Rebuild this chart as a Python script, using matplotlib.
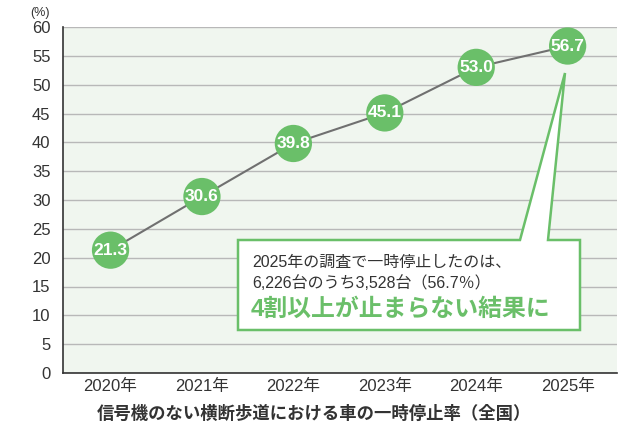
import matplotlib
matplotlib.use("Agg")
import matplotlib.pyplot as plt
from matplotlib.patches import Polygon

plt.rcParams['font.family'] = ['Liberation Sans', 'Noto Sans CJK JP']

years = ['2020年', '2021年', '2022年', '2023年', '2024年', '2025年']
rates = [21.3, 30.6, 39.8, 45.1, 53.0, 56.7]
yticks = [0, 5, 10, 15, 20, 25, 30, 35, 40, 45, 50, 55, 60]
title = '信号機のない横断歩道における車の一時停止率（全国）'
note1 = '2025年の調査で一時停止したのは、'
note2 = '6,226台のうち3,528台（56.7％）'
note3 = '4割以上が止まらない結果に'

green = '#6abf69'
dark = '#333333'

fig = plt.figure(figsize=(6.3, 4.3), dpi=100)
ax = fig.add_axes([63/630, 1 - 373/430, 554/630, 346/430])
ax.set_facecolor('#f0f6ef')
ax.set_xlim(-0.52, 5.54)
ax.set_ylim(0, 60)
ax.set_yticks(yticks)
ax.set_xticks(range(len(years)))
ax.set_xticklabels(years, fontsize=12, color=dark)
ax.tick_params(axis='y', labelsize=12, colors=dark, length=0, pad=9)
ax.tick_params(axis='x', length=0, pad=4)
ax.grid(axis='y', color='#b8b8b8', linewidth=1)
ax.set_axisbelow(True)
for s in ['top', 'right']:
    ax.spines[s].set_visible(False)
for s in ['left', 'bottom']:
    ax.spines[s].set_color(dark)
    ax.spines[s].set_linewidth(1.2)

x = list(range(len(rates)))
ax.plot(x, rates, color='#707070', linewidth=1.5, zorder=3)
ax.scatter(x, rates, s=720, color=green, zorder=4, edgecolors='none')
for xi, v in zip(x, rates):
    ax.text(xi, v, f'{v:.1f}', ha='center', va='center', color='white',
            fontsize=12.5, fontweight='semibold', zorder=5)

# callout box with tail pointing at the 2025 marker
box = [(238, 240), (520, 240), (565, 73), (548, 240), (580, 240),
       (580, 330), (238, 330)]
poly = Polygon([(a / 630, 1 - b / 430) for a, b in box], closed=True,
               transform=fig.transFigure, facecolor='white', edgecolor=green,
               linewidth=1.8, zorder=6)
fig.patches.append(poly)

fig.text(252 / 630, 1 - 262 / 430, note1, fontsize=11.5, color=dark,
         va='center', zorder=7)
fig.text(252 / 630, 1 - 283 / 430, note2, fontsize=11.5, color=dark,
         va='center', zorder=7)
fig.text(251 / 630, 1 - 309 / 430, note3, fontsize=17.2, color=green,
         fontweight='bold', va='center', zorder=7)

fig.text(40 / 630, 1 - 13 / 430, '(%)', fontsize=9, color=dark,
         ha='center', va='center')
fig.text(314 / 630, 1 - 413 / 430, title, fontsize=12.5, fontweight='bold',
         color=dark, ha='center', va='center')

fig.savefig('out.png', dpi=100)
